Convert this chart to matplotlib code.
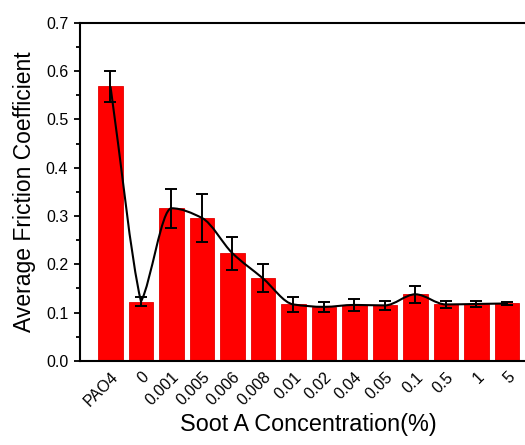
import numpy as np
import matplotlib
matplotlib.use("Agg")
import matplotlib.pyplot as plt
from matplotlib.path import Path
from matplotlib.patches import PathPatch
from matplotlib.ticker import MultipleLocator

plt.rcParams['font.family'] = ['Liberation Sans', 'DejaVu Sans']

categories = ["PAO4", "0", "0.001", "0.005", "0.006", "0.008", "0.01",
              "0.02", "0.04", "0.05", "0.1", "0.5", "1", "5"]
friction = [0.568, 0.123, 0.316, 0.296, 0.223, 0.171, 0.117,
            0.112, 0.116, 0.115, 0.138, 0.117, 0.118, 0.119]
errors = [0.032, 0.009, 0.040, 0.050, 0.034, 0.029, 0.015,
          0.010, 0.012, 0.010, 0.018, 0.007, 0.007, 0.003]


def smooth_path(x, y):
    """Monotone cubic Hermite curve through the points, as Bezier segments.
    Local minima keep a sharp corner, local maxima are rounded."""
    x = np.asarray(x, float)
    y = np.asarray(y, float)
    h = np.diff(x)
    d = np.diff(y) / h
    n = len(y)
    m_in = np.zeros(n)
    m_out = np.zeros(n)
    m_in[0] = m_out[0] = d[0]
    m_in[-1] = m_out[-1] = d[-1]
    for i in range(1, n - 1):
        if d[i - 1] * d[i] > 0:
            w1 = 2 * h[i] + h[i - 1]
            w2 = h[i] + 2 * h[i - 1]
            m = (w1 + w2) / (w1 / d[i - 1] + w2 / d[i])
            m_in[i] = m_out[i] = m
        elif d[i - 1] < 0 < d[i] and abs(d[i - 1]) > 0.1:
            m_in[i] = d[i - 1] * 0.6
            m_out[i] = d[i] * 0.6
    verts = [(x[0], y[0])]
    codes = [Path.MOVETO]
    for i in range(n - 1):
        verts += [(x[i] + h[i] / 3, y[i] + m_out[i] * h[i] / 3),
                  (x[i + 1] - h[i] / 3, y[i + 1] - m_in[i + 1] * h[i] / 3),
                  (x[i + 1], y[i + 1])]
        codes += [Path.CURVE4] * 3
    return Path(verts, codes)


fig = plt.figure(figsize=(5.25, 4.45), dpi=100)
ax = fig.add_axes([0.1524, 0.1888, 0.871, 0.7602])

xpos = np.arange(len(categories))
ax.bar(xpos, friction, width=0.8, color='#ff0000', edgecolor='#e60000',
       linewidth=0.6, zorder=2)
ax.errorbar(xpos, friction, yerr=errors, fmt='none', ecolor='black',
            elinewidth=1.4, capsize=4, capthick=1.4, zorder=4)
ax.add_patch(PathPatch(smooth_path(xpos, friction), facecolor='none',
                       edgecolor='black', linewidth=1.5, zorder=3))

ax.set_xlim(-1.0, 14.0)
ax.set_ylim(0.0, 0.7)
ax.yaxis.set_major_locator(MultipleLocator(0.1))
ax.yaxis.set_minor_locator(MultipleLocator(0.05))
ax.set_xticks(xpos)
ax.set_xticklabels(categories, rotation=45, ha='right', va='top',
                   rotation_mode='anchor', fontsize=11.5)
ax.tick_params(axis='x', length=0, pad=6)
ax.tick_params(axis='y', which='major', direction='out', length=4.5,
               width=1.3, labelsize=11.5, pad=4)
ax.tick_params(axis='y', which='minor', direction='out', length=3,
               width=1.3)
for s in ax.spines.values():
    s.set_linewidth(1.5)

ax.set_xlabel("Soot A Concentration(%)", fontsize=16.8, labelpad=3)
ax.set_ylabel("Average Friction Coefficient", fontsize=16.5, labelpad=7)

fig.savefig("out.png", dpi=100)
